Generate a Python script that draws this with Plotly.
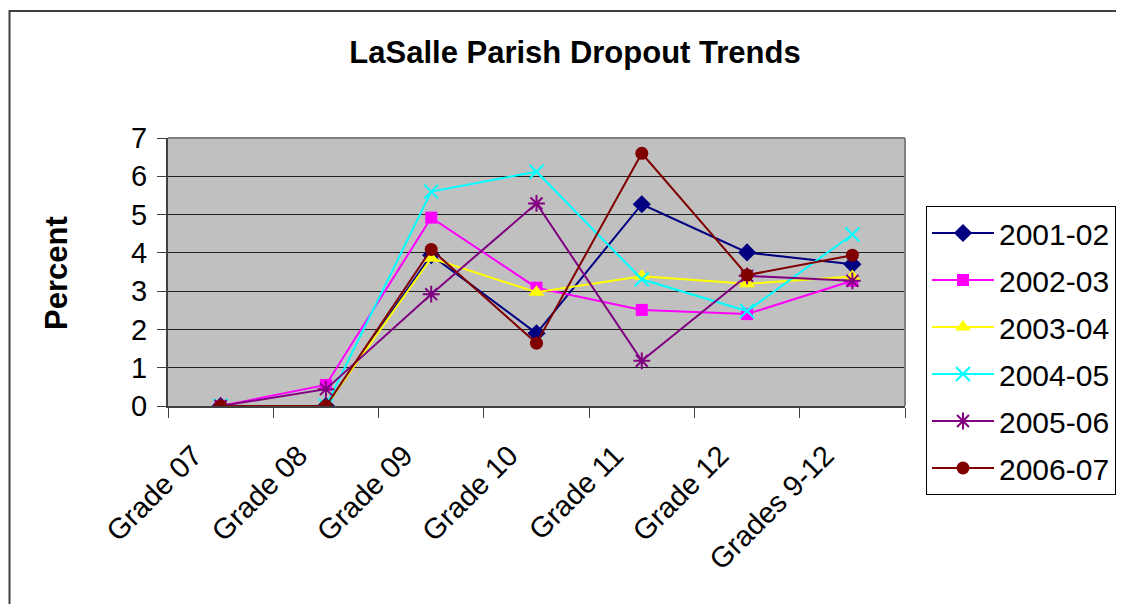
import plotly.graph_objects as go

categories = ["Grade 07", "Grade 08", "Grade 09", "Grade 10", "Grade 11", "Grade 12", "Grades 9-12"]

s2001_02 = [0.0, 0.0, 3.94, 1.90, 5.27, 4.01, 3.70]
s2002_03 = [0.0, 0.55, 4.92, 3.09, 2.51, 2.40, 3.27]
s2003_04 = [0.0, 0.0, 3.86, 2.97, 3.39, 3.19, 3.38]
s2004_05 = [0.0, 0.0, 5.60, 6.12, 3.31, 2.48, 4.48]
s2005_06 = [0.0, 0.44, 2.92, 5.29, 1.18, 3.40, 3.27]
s2006_07 = [0.0, 0.0, 4.09, 1.64, 6.60, 3.42, 3.94]

series = [
    ("2001-02", s2001_02, "#000080", "diamond", 14),
    ("2002-03", s2002_03, "#FF00FF", "square", 12),
    ("2003-04", s2003_04, "#FFFF00", "triangle-up", 14),
    ("2004-05", s2004_05, "#00FFFF", "x-thin", 14),
    ("2005-06", s2005_06, "#800080", "asterisk", 14),
    ("2006-07", s2006_07, "#800000", "circle", 13),
]

FONT = "Liberation Sans, Arial, sans-serif"

fig = go.Figure()
for i, (name, vals, color, sym, size) in enumerate(series):
    thin = sym in ("x-thin", "asterisk")
    fig.add_trace(go.Scatter(
        x=categories, y=vals, name=name, mode="lines+markers",
        legendgroup=f"g{i}",
        line=dict(color=color, width=2),
        marker=dict(symbol=sym, size=size, color=color,
                    line=dict(color=color, width=2 if thin else 0)),
    ))

# page body has an 8px margin; work in screen coordinates and shift
OFF = 8
W, H = 1124 - OFF, 604 - OFF
L, R, T, B = 168 - OFF, 905 - OFF, 138 - OFF, 406 - OFF
pw, ph = R - L, B - T

def px_x(x):
    return (x - OFF - L) / pw

def px_y(y):
    return (B - (y - OFF)) / ph

fig.update_layout(
    width=W, height=H,
    margin=dict(l=L, r=W - R, t=T, b=H - B, pad=0, autoexpand=False),
    paper_bgcolor="white",
    plot_bgcolor="#C0C0C0",
    font=dict(family=FONT, color="black"),
    showlegend=True,
    legend=dict(
        x=px_x(926), y=px_y(206), xanchor="left", yanchor="top",
        bgcolor="white", bordercolor="black", borderwidth=1,
        font=dict(size=30, family=FONT),
        tracegroupgap=5, traceorder="grouped",
        itemwidth=62, maxheight=500,
    ),
    title=dict(
        text="<b>LaSalle Parish Dropout Trends</b>",
        font=dict(size=31, family=FONT),
        x=px_x(575), xref="paper", xanchor="center",
        y=1 - (52 - OFF) / H, yref="container", yanchor="middle",
    ),
    xaxis=dict(
        type="category", range=[-0.5, 6.5],
        tickangle=-45, tickfont=dict(size=29, family=FONT),
        ticks="outside", ticklen=10, tickcolor="#404040", tickwidth=1,
        tickson="boundaries", showgrid=False,
        showline=True, linecolor="#404040", linewidth=2,
        ticklabelstandoff=19, ticklabelshift=-27,
        zeroline=False,
    ),
    yaxis=dict(
        range=[0, 7], dtick=1, tick0=0,
        tickfont=dict(size=29, family=FONT),
        ticks="outside", ticklen=9, tickcolor="#404040", tickwidth=1,
        showgrid=True, gridcolor="#202020", gridwidth=1,
        showline=True, linecolor="#404040", linewidth=2,
        ticklabelstandoff=4,
        zeroline=False,
    ),
    annotations=[dict(
        text="<b>Percent</b>", textangle=-90,
        x=px_x(56), y=px_y(273), xref="paper", yref="paper",
        xanchor="center", yanchor="middle", showarrow=False,
        font=dict(size=31, family=FONT, color="black"),
    )],
    shapes=[
        dict(type="rect", xref="paper", yref="paper",
             x0=px_x(9.5), y0=px_y(640), x1=px_x(1150), y1=px_y(11),
             line=dict(color="#404040", width=2), layer="below"),
        dict(type="line", xref="paper", yref="paper",
             x0=0, y0=1, x1=1, y1=1, line=dict(color="#808080", width=2)),
        dict(type="line", xref="paper", yref="paper",
             x0=1, y0=0, x1=1, y1=1, line=dict(color="#808080", width=2)),
    ],
)

fig.write_html("out.html")
